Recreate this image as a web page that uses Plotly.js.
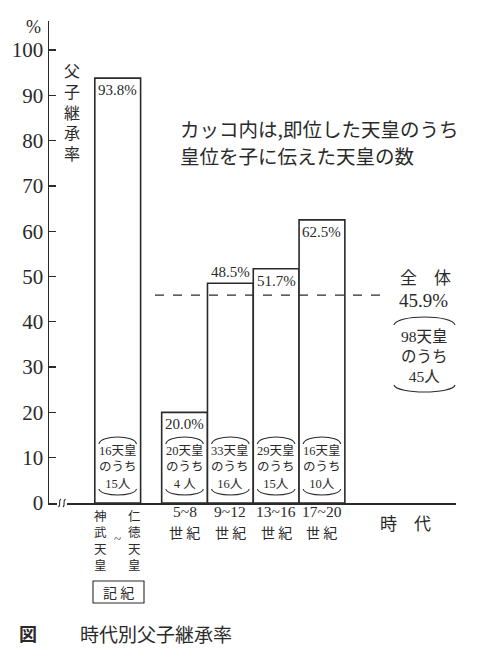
<!DOCTYPE html>
<html>
<head>
<meta charset="utf-8">
<script src="https://cdn.plot.ly/plotly-3.0.1.min.js"></script>
<style>
  html, body { margin: 0; padding: 0; background: #fff; }
  #chart { width: 480px; height: 662px; }
</style>
</head>
<body>
<div id="chart"></div>
<script>
// ─── Data ─────────────────────────────────────────────────────────────────────
const firstFrom = '神武天皇';
const firstTo = '仁徳天皇';
const firstSource = '記 紀';
const centuryRanges = ['5~8', '9~12', '13~16', '17~20'];
const rates = [93.8, 20.0, 48.5, 51.7, 62.5];      // 父子継承率 (%)
const emperors = [16, 20, 33, 29, 16];              // 即位した天皇
const toSons = [15, 4, 16, 15, 10];                 // 皇位を子に伝えた天皇
const overallRate = 45.9;
const overallEmperors = 98;
const overallToSons = 45;
const yTicks = [0, 10, 20, 30, 40, 50, 60, 70, 80, 90, 100];

// ─── Geometry helpers (pixel → paper) ─────────────────────────────────────────
const L = 49, R = 456, T = 21, B = 503;
const BAR_PX = 45.8;
const px = x => (x - L) / (R - L);
const py = y => (B - y) / (B - T);

const INK = '#2a2a2a';
const NUM = '"Liberation Serif", "Noto Sans CJK JP", serif';
const JP = '"Noto Sans CJK JP", sans-serif';

const xPos = rates.map((_, i) => (i === 0 ? 1.5 : i + 1.96));

const annotations = [];
const shapes = [];

function note(text, x, y, size, opts = {}) {
    annotations.push(Object.assign({
        text, x, y, xref: 'paper', yref: 'paper',
        showarrow: false, xanchor: 'center', yanchor: 'middle',
        font: { family: JP, size, color: INK },
    }, opts));
}

// vertical text, one char per line
const vert = s => [...s].join('<br>');

// bracket arcs ︵ ︶ drawn as curves
function arc(x0, x1, yEnd, yPeak, xref) {
    const cy = yEnd + (yPeak - yEnd) / 0.75;
    const d = (x1 - x0) * 0.04;
    shapes.push({
        type: 'path', xref, yref: 'paper',
        path: `M ${x0},${yEnd} C ${x0 + d},${cy} ${x1 - d},${cy} ${x1},${yEnd}`,
        line: { color: INK, width: 1.1 },
    });
}

// ─── Bar labels ───────────────────────────────────────────────────────────────
rates.forEach((r, i) => {
    const above = r - overallRate > 0 && r - overallRate < 4;
    annotations.push({
        text: r.toFixed(1) + '%', x: xPos[i], y: r, xref: 'x', yref: 'y',
        showarrow: false, yanchor: 'middle', yshift: above ? 11 : -12,
        font: { family: NUM, size: 15, color: INK },
    });
    // bracketed counts
    const lines = [emperors[i] + '天皇', 'のうち', (toSons[i] < 10 ? toSons[i] + ' ' : toSons[i]) + '人'];
    annotations.push({
        text: lines.join('<br>'), x: xPos[i], y: py(467), xref: 'x', yref: 'paper',
        showarrow: false, yanchor: 'middle',
        font: { family: NUM, size: 12.5, color: INK },
    });
    arc(xPos[i] - 0.41, xPos[i] + 0.41, py(444), py(437), 'x');
    arc(xPos[i] - 0.41, xPos[i] + 0.41, py(489), py(495), 'x');
});

// ─── X labels ─────────────────────────────────────────────────────────────────
centuryRanges.forEach((t, k) => {
    const i = k + 1;
    annotations.push({
        text: t, x: xPos[i], y: py(522), xref: 'x', yref: 'paper', showarrow: false,
        font: { family: NUM, size: 15.5, color: INK },
    });
    annotations.push({
        text: '世 紀', x: xPos[i], y: py(544), xref: 'x', yref: 'paper', showarrow: false,
        font: { family: JP, size: 14, color: INK },
    });
});
note(vert(firstFrom), px(100), py(540), 12.5);
note(vert(firstTo), px(134), py(540), 12.5);
note('~', px(117), py(538), 12, { font: { family: NUM, size: 13, color: INK } });
note(firstSource, px(118.5), py(592), 14);
shapes.push({
    type: 'rect', xref: 'paper', yref: 'paper',
    x0: px(93), x1: px(144), y0: py(603), y1: py(581),
    line: { color: INK, width: 1.1 },
});
note('時　代', px(405), py(522), 17);

// ─── Axis title, unit, caption, notes ─────────────────────────────────────────
note('%', px(33), py(27), 17, { font: { family: NUM, size: 18, color: INK } });
note(vert('父子継承率'), px(72), py(111), 16);
note('カッコ内は,即位した天皇のうち', px(178), py(128), 19.5, { xanchor: 'left' });
note('皇位を子に伝えた天皇の数', px(178), py(155), 19.5, { xanchor: 'left' });
note('<b>図</b>', px(28), py(633), 18);
note('時代別父子継承率', px(78), py(633), 19, { xanchor: 'left' });

// overall block at the right
note('全　体', px(425), py(276), 17);
note(overallRate.toFixed(1) + '%', px(423), py(300), 18, { font: { family: NUM, size: 19, color: INK } });
note([overallEmperors + '天皇', 'のうち', overallToSons + '人'].join('<br>'), px(424), py(356), 15.5,
    { font: { family: NUM, size: 15.5, color: INK } });
arc(px(394), px(455), py(325), py(317), 'paper');
arc(px(394), px(455), py(385), py(392), 'paper');

// overall dashed line
shapes.push({
    type: 'line', xref: 'paper', yref: 'y',
    x0: px(155), x1: px(382), y0: overallRate, y1: overallRate,
    line: { color: INK, width: 1.3, dash: 'dash' },
});

// axis break mark on the baseline
shapes.push({
    type: 'line', xref: 'paper', yref: 'paper',
    x0: px(57), x1: px(67), y0: 0, y1: 0,
    line: { color: '#ffffff', width: 4 },
});
[58.5, 63].forEach(x0 => shapes.push({
    type: 'path', xref: 'paper', yref: 'paper',
    path: `M ${px(x0)},${py(507)} C ${px(x0 + 3)},${py(505)} ${px(x0 - 1)},${py(501)} ${px(x0 + 2.5)},${py(499)}`,
    line: { color: INK, width: 1.1 },
}));

// ─── Chart ────────────────────────────────────────────────────────────────────
const bars = {
    type: 'bar', x: xPos, y: rates, width: 1,
    marker: { color: '#ffffff', line: { color: INK, width: 1.6 } },
    hoverinfo: 'none',
};

const layout = {
    width: 480, height: 662,
    margin: { l: L, r: 480 - R, t: T, b: 662 - B, pad: 0 },
    paper_bgcolor: '#ffffff',
    plot_bgcolor: '#ffffff',
    showlegend: false,
    xaxis: {
        range: [0, (R - L) / BAR_PX],
        showline: true, linecolor: INK, linewidth: 1.5,
        showticklabels: false, ticks: '', showgrid: false, zeroline: false,
        fixedrange: true,
    },
    yaxis: {
        range: [0, (B - T) / 4.53],
        tickvals: yTicks,
        ticks: 'inside', ticklen: 7, tickwidth: 1.4, tickcolor: INK,
        showline: true, linecolor: INK, linewidth: 1.5,
        showgrid: false, zeroline: false,
        tickfont: { family: NUM, size: 21, color: INK },
        fixedrange: true,
    },
    shapes,
    annotations,
};

Plotly.newPlot('chart', [bars], layout, { displayModeBar: false, staticPlot: true });
</script>
</body>
</html>
